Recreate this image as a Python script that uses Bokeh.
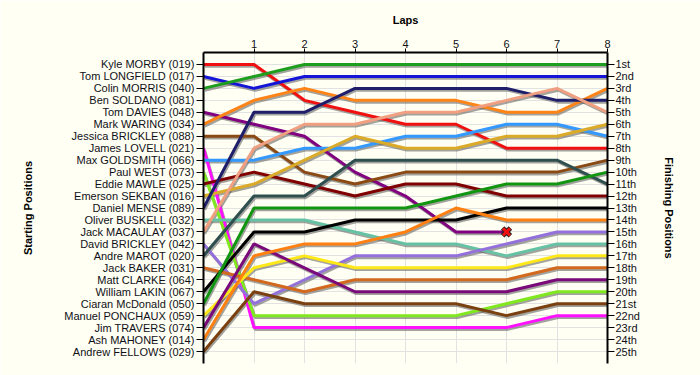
from bokeh.plotting import figure
from bokeh.models import FixedTicker, LinearAxis, Range1d
from bokeh.embed import file_html
from bokeh.resources import INLINE

laps = [0, 1, 2, 3, 4, 5, 6, 7, 8]

start_labels = [
    "Kyle MORBY (019)", "Tom LONGFIELD (017)", "Colin MORRIS (040)", "Ben SOLDANO (081)",
    "Tom DAVIES (048)", "Mark WARING (034)", "Jessica BRICKLEY (088)", "James LOVELL (021)",
    "Max GOLDSMITH (066)", "Paul WEST (073)", "Eddie MAWLE (025)", "Emerson SEKBAN (016)",
    "Daniel MENSE (089)", "Oliver BUSKELL (032)", "Jack MACAULAY (037)", "David BRICKLEY (042)",
    "Andre MAROT (020)", "Jack BAKER (031)", "Matt CLARKE (064)", "William LAKIN (067)",
    "Ciaran McDonald (050)", "Manuel PONCHAUX (059)", "Jim TRAVERS (074)", "Ash MAHONEY (014)",
    "Andrew FELLOWS (029)",
]
finish_labels = [
    "1st", "2nd", "3rd", "4th", "5th", "6th", "7th", "8th", "9th", "10th", "11th", "12th",
    "13th", "14th", "15th", "16th", "17th", "18th", "19th", "20th", "21st", "22nd", "23rd",
    "24th", "25th",
]

# positions per lap (lap 0 = start)
kyle_morby = [1, 1, 4, 5, 6, 6, 8, 8, 8]
tom_longfield = [2, 3, 2, 2, 2, 2, 2, 2, 2]
colin_morris = [3, 2, 1, 1, 1, 1, 1, 1, 1]
tom_davies = [5, 6, 7, 10, 12, 15, 15]          # retired on lap 6
mark_waring = [6, 4, 3, 4, 4, 4, 5, 5, 3]
jessica_brickley = [7, 7, 10, 11, 10, 10, 10, 10, 9]
james_lovell = [8, 23, 23, 23, 23, 23, 23, 22, 22]
max_goldsmith = [9, 9, 8, 8, 7, 7, 6, 6, 7]
paul_west = [10, 22, 22, 22, 22, 22, 21, 20, 20]
eddie_mawle = [11, 10, 11, 12, 11, 11, 12, 12, 12]
emerson_sekban = [12, 11, 9, 7, 8, 8, 7, 7, 6]
daniel_mense = [13, 5, 5, 3, 3, 3, 3, 4, 4]
oliver_buskell = [14, 14, 14, 15, 16, 16, 17, 16, 16]
jack_macaulay = [15, 8, 6, 6, 5, 5, 4, 3, 5]
david_brickley = [16, 21, 19, 17, 17, 17, 16, 15, 15]
andre_marot = [17, 12, 12, 9, 9, 9, 9, 9, 11]
jack_baker = [18, 19, 20, 19, 19, 19, 19, 18, 18]
william_lakin = [20, 15, 15, 14, 14, 14, 13, 13, 13]
ciaran_mcdonald = [21, 13, 13, 13, 13, 12, 11, 11, 10]
manuel_ponchaux = [22, 18, 17, 18, 18, 18, 18, 17, 17]
jim_travers = [23, 16, 18, 20, 20, 20, 20, 19, 19]
ash_mahoney = [24, 17, 16, 16, 15, 13, 14, 14, 14]
andrew_fellows = [25, 20, 21, 21, 21, 21, 22, 21, 21]

series = [
    (kyle_morby, "#F01010"), (tom_longfield, "#1515D8"), (colin_morris, "#1E9E1E"),
    (tom_davies, "#800080"), (mark_waring, "#FF8418"), (jessica_brickley, "#8B4A13"),
    (james_lovell, "#FF10FF"), (max_goldsmith, "#3399FF"), (paul_west, "#80E81E"),
    (eddie_mawle, "#800000"), (emerson_sekban, "#DAAA28"), (daniel_mense, "#1E1E6A"),
    (oliver_buskell, "#66C2A5"), (jack_macaulay, "#F0A080"), (david_brickley, "#9370DB"),
    (andre_marot, "#2F4F4F"), (jack_baker, "#D2691E"), (william_lakin, "#000000"),
    (ciaran_mcdonald, "#129612"), (manuel_ponchaux, "#FFE818"), (jim_travers, "#7A0A7A"),
    (ash_mahoney, "#FF8010"), (andrew_fellows, "#7A4010"),
]

BG = "#FFFFF3"
FONT = "Liberation Sans"

p = figure(width=700, height=375, output_backend="svg", toolbar_location=None,
           x_range=Range1d(0, 8), y_range=Range1d(26, 0),
           x_axis_location="above", y_axis_location="left",
           min_border_left=203, min_border_right=93, min_border_top=52, min_border_bottom=12)
p.background_fill_color = BG
p.border_fill_color = BG
p.outline_line_color = None

# shadow ranges (slightly offset)
p.extra_x_ranges = {"sx": Range1d(-0.022, 8 - 0.022)}
p.extra_y_ranges = {"sy": Range1d(26 - 0.15, -0.15)}

# grid
p.xgrid.ticker = FixedTicker(ticks=list(range(0, 9)))
p.ygrid.ticker = FixedTicker(ticks=list(range(1, 27)))
p.xgrid.grid_line_color = "#E2E2E2"
p.ygrid.grid_line_color = "#E2E2E2"

for ys, col in series:
    p.line(laps[:len(ys)], ys, line_width=3, line_color="#666666", line_alpha=0.6,
           x_range_name="sx", y_range_name="sy")
for ys, col in series:
    p.line(laps[:len(ys)], ys, line_width=3, line_color=col)

# retirement marker
p.scatter([laps[len(tom_davies) - 1]], [tom_davies[-1]], marker="x", size=11,
          line_width=5, line_color="#202020")
p.scatter([laps[len(tom_davies) - 1]], [tom_davies[-1]], marker="x", size=10,
          line_width=3, line_color="#F01010")

def style_axis(ax):
    ax.axis_line_color = "black"
    ax.axis_line_width = 2
    ax.major_tick_line_color = "black"
    ax.major_tick_line_width = 1
    ax.minor_tick_line_color = None
    ax.major_tick_in = 0
    ax.major_label_text_font = FONT
    ax.major_label_text_font_size = "11px"
    ax.major_label_text_color = "#101018"
    ax.axis_label_text_font = FONT
    ax.axis_label_text_font_size = "11px"
    ax.axis_label_text_font_style = "bold"
    ax.axis_label_text_color = "black"

# top axis
xa = p.xaxis[0]
style_axis(xa)
xa.ticker = FixedTicker(ticks=laps[1:])
xa.major_tick_out = 4
xa.major_label_standoff = 1
xa.axis_label = "Laps"
xa.axis_label_standoff = 11

# left axis
ya = p.yaxis[0]
style_axis(ya)
ya.ticker = FixedTicker(ticks=list(range(1, 26)))
ya.major_label_overrides = {i + 1: s for i, s in enumerate(start_labels)}
ya.major_tick_out = 7
ya.major_label_standoff = 2
ya.axis_label = "Starting Positions"
ya.axis_label_standoff = 27

# right axis
ra = LinearAxis()
style_axis(ra)
ra.ticker = FixedTicker(ticks=list(range(1, 26)))
ra.major_label_overrides = {i + 1: s for i, s in enumerate(finish_labels)}
ra.major_tick_out = 7
ra.major_label_standoff = 1
ra.axis_label = "Finishing Positions"
ra.axis_label_standoff = 20
p.add_layout(ra, "right")

open("out.html", "w").write(file_html(p, INLINE))
